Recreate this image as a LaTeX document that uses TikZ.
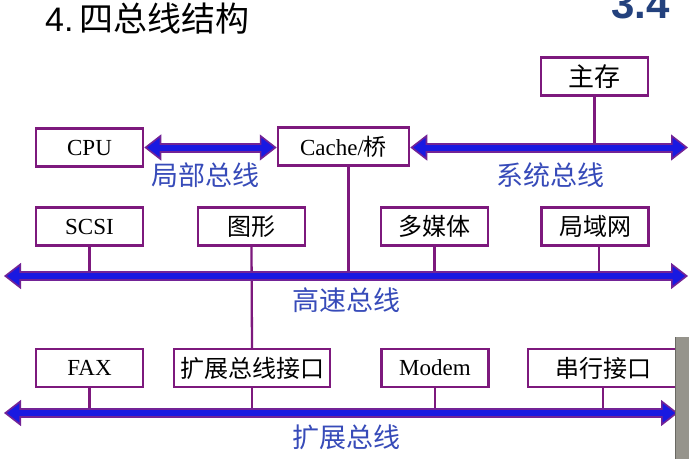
\documentclass[tikz,border=0pt]{standalone}
\usepackage{fontspec}
\setmainfont{Liberation Serif}
\newfontfamily\cjk{Noto Sans CJK SC}
\newfontfamily\titlesans{Liberation Sans}
\usetikzlibrary{arrows.meta,calc}
\definecolor{boxpurple}{RGB}{125,25,125}
\definecolor{busblue}{RGB}{25,25,225}
\definecolor{busedge}{RGB}{115,35,150}
\definecolor{labelblue}{RGB}{55,75,185}
\definecolor{numblue}{RGB}{35,65,125}
\definecolor{stripgray}{RGB}{150,148,140}
\newcommand{\cjkbox}{\cjk\fontsize{24}{26}\selectfont}
\begin{document}
\begin{tikzpicture}[x=1pt,y=-1pt,
  box/.style={draw=boxpurple, line width=2.5pt, fill=white, minimum width=107pt,
    minimum height=38pt, inner sep=0pt, font=\fontsize{23}{25}\selectfont},
  stem/.style={draw=boxpurple, line width=2.3pt},
  busouter/.style={draw=busedge, line width=10pt,
    {Triangle[length=17pt,width=26pt,fill=busblue,line width=1.6pt]}-{Triangle[length=17pt,width=26pt,fill=busblue,line width=1.6pt]}},
  businner/.style={draw=busblue, line width=6pt, shorten <=11pt, shorten >=11pt},
  buslabel/.style={text=labelblue, font=\cjk\fontsize{27}{29}\selectfont, inner sep=0pt}]
\fill[white] (0,0) rectangle (689,459);
\useasboundingbox (0,0) rectangle (689,459);

% title
\node[anchor=base west, inner sep=0pt, font=\fontsize{34}{36}\selectfont] (title) at (45,31)
  {\titlesans 4.\,{\cjk 四总线结构}};
\node[anchor=base west, inner sep=0pt, text=numblue, font=\titlesans\bfseries\fontsize{42}{44}\selectfont] (num) at (611,18) {3.4};

% boxes
\node[box] (mem) at (594.5,76.5) {\cjk\fontsize{26}{28}\selectfont 主存};
\node[box] (cpu) at (89.5,147.5) {CPU};
\node[box, minimum width=131pt] (cache) at (343.5,146.5) {Cache/{\cjk 桥}};

\node[box] (scsi) at (89.5,226.5) {SCSI};
\node[box] (gfx) at (251.5,226.5) {\cjkbox 图形};
\node[box] (mm) at (434.5,226.5) {\cjkbox 多媒体};
\node[box] (lan) at (595,226.5) {\cjkbox 局域网};

\node[box] (fax) at (89.5,368) {FAX};
\node[box, minimum width=156pt] (ext) at (252,368) {\cjkbox 扩展总线接口};
\node[box] (modem) at (435,368) {Modem};
\node[box, minimum width=150pt] (ser) at (603,368) {\cjkbox 串行接口};

% bus end coordinates
\coordinate (sysR) at (688,147.5);
\coordinate (hsL) at (4,276);
\coordinate (hsR) at (688,276);
\coordinate (exL) at (4,413);
\coordinate (exR) at (678,413);

% stems
\draw[stem] (mem.south) -- (mem.south |- sysR);
\draw[stem] ([xshift=5pt]cache.south) -- ([xshift=5pt]cache.south |- hsL);
\draw[stem] (scsi.south) -- (scsi.south |- hsL);
\draw[stem] (gfx.south) -- (ext.north);
\draw[stem] (mm.south) -- (mm.south |- hsL);
\draw[stem] ([xshift=4pt]lan.south) -- ([xshift=4pt]lan.south |- hsL);
\draw[stem] (fax.south) -- (fax.south |- exL);
\draw[stem] (ext.south) -- (ext.south |- exL);
\draw[stem] (modem.south) -- (modem.south |- exL);
\draw[stem] (ser.south) -- (ser.south |- exL);

% buses
\draw[busouter] (cpu.east) -- (cache.west |- cpu.east);
\draw[businner] (cpu.east) -- (cache.west |- cpu.east);
\draw[busouter] (cache.east |- sysR) -- (sysR);
\draw[businner] (cache.east |- sysR) -- (sysR);
\draw[busouter] (hsL) -- (hsR);
\draw[businner] (hsL) -- (hsR);
\draw[busouter] (exL) -- (exR);
\draw[businner] (exL) -- (exR);

% bus labels
\node[buslabel] (lbus) at (205,175) {局部总线};
\node[buslabel] (sbus) at (550,175) {系统总线};
\node[buslabel] (hbus) at (346,300) {高速总线};
\node[buslabel] (ebus) at (346,437) {扩展总线};

% screenshot strip
\fill[stripgray] (675,337) rectangle (689,459);
\draw[stripgray!70!black, line width=1pt] (675.5,337) -- (675.5,459);
\end{tikzpicture}
\end{document}
